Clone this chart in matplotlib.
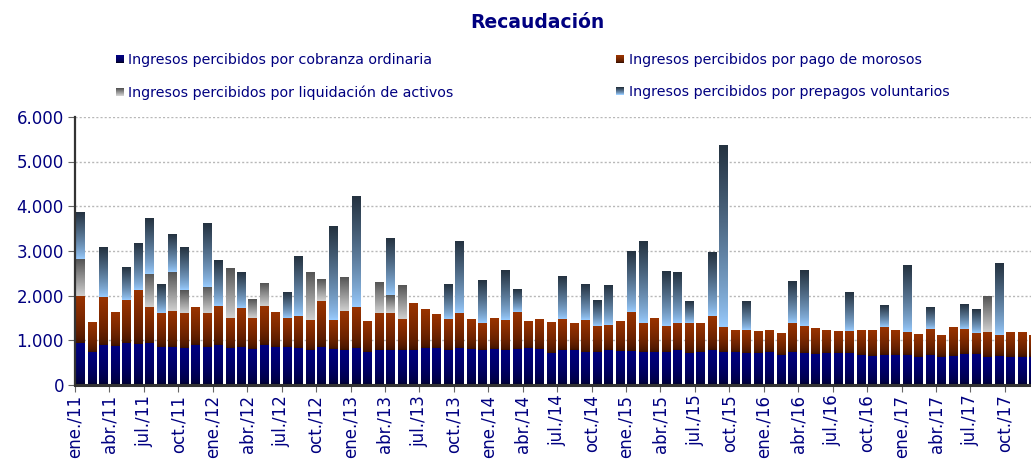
import numpy as np
import matplotlib
matplotlib.use("Agg")
import matplotlib.pyplot as plt
from matplotlib.patches import Rectangle
from matplotlib.legend_handler import HandlerBase
from matplotlib.ticker import FuncFormatter
from matplotlib.colors import to_rgb

# ---------------- data (monthly, ene./11 .. dic./17) ----------------
cobranza = [930, 730, 890, 870, 930, 910, 930, 860, 840, 820, 890, 860,
            890, 820, 860, 800, 890, 840, 840, 820, 780, 840, 800, 780,
            820, 730, 780, 780, 780, 780, 820, 820, 780, 820, 800, 780,
            800, 780, 800, 820, 800, 710, 780, 780, 730, 730, 780, 750,
            750, 730, 730, 730, 780, 710, 730, 780, 730, 730, 710, 710,
            730, 660, 730, 710, 690, 710, 710, 710, 660, 640, 660, 660,
            660, 620, 660, 620, 640, 690, 690, 620, 640, 620, 620, 620]
morosos = [1070, 670, 1070, 760, 980, 1210, 810, 740, 810, 800, 850, 740,
           870, 670, 870, 690, 870, 780, 650, 720, 670, 1050, 650, 870,
           920, 690, 830, 830, 690, 1050, 870, 740, 690, 800, 650, 600,
           690, 670, 830, 600, 650, 690, 690, 600, 720, 600, 560, 650,
           890, 650, 740, 600, 600, 670, 630, 760, 560, 490, 510, 490,
           470, 490, 650, 600, 580, 510, 490, 490, 540, 560, 630, 540,
           520, 510, 600, 490, 630, 560, 470, 560, 470, 540, 540, 490]
liquidacion = [810, 0, 0, 0, 0, 0, 740, 0, 870, 510, 0, 600,
               0, 1100, 0, 420, 510, 0, 0, 0, 1070, 490, 0, 760,
               0, 0, 690, 400, 740, 0, 0, 0, 0, 0, 0, 0,
               0, 0, 0, 0, 0, 0, 0, 0, 0, 0, 0, 0,
               0, 0, 0, 0, 0, 0, 0, 0, 0, 0, 0, 0,
               0, 0, 0, 0, 0, 0, 0, 0, 0, 0, 0, 0,
               0, 0, 0, 0, 0, 0, 0, 800, 0, 0, 0, 0]
prepagos = [1050, 0, 1100, 0, 720, 1030, 1250, 630, 850, 940, 0, 1430,
            1010, 0, 800, 0, 0, 0, 560, 1320, 0, 0, 2100, 0,
            2480, 0, 0, 1270, 0, 0, 0, 0, 780, 1610, 0, 960,
            0, 1100, 510, 0, 0, 0, 960, 0, 800, 560, 890, 0,
            1360, 1830, 0, 1210, 1120, 490, 0, 1430, 4050, 0, 630, 0,
            0, 0, 920, 1250, 0, 0, 0, 870, 0, 0, 490, 0,
            1480, 0, 490, 0, 0, 540, 520, 0, 1610, 0, 0, 0]

series_labels = ["Ingresos percibidos por cobranza ordinaria",
                 "Ingresos percibidos por pago de morosos",
                 "Ingresos percibidos por liquidación de activos",
                 "Ingresos percibidos por prepagos voluntarios"]
tick_labels = [f"{m}/{y}" for y in range(11, 18) for m in ("ene.", "abr.", "jul.", "oct.")]
title = "Recaudación"

# gradient colours (bottom, top)
grads = [("#000022", "#000080"),
         ("#3a1000", "#993300"),
         ("#cfcfcf", "#555555"),
         ("#99ccff", "#253341")]
gammas = [0.45, 0.6, 1.0, 0.8]

NAVY = "#000080"

def grad_img(bot, top, gamma, n=64):
    b = np.array(to_rgb(bot)); t = np.array(to_rgb(top))
    f = np.linspace(0, 1, n) ** gamma
    return (b[None, :] * (1 - f[:, None]) + t[None, :] * f[:, None])[:, None, :]

fig = plt.figure(figsize=(10.31, 4.62), dpi=100)
W, H = 1031, 462
ax = fig.add_axes([75 / W, 77 / H, (W - 75) / W, (385.5 - 117.3) / H])

n = len(cobranza)
x = np.arange(n) + 0.5
width = 0.78
bottom = np.zeros(n)
all_series = [cobranza, morosos, liquidacion, prepagos]
for k, vals in enumerate(all_series):
    vals = np.array(vals, dtype=float)
    bars = ax.bar(x, vals, width, bottom=bottom, color="none", edgecolor="none", zorder=2)
    img = grad_img(grads[k][0], grads[k][1], gammas[k])
    for r, v in zip(bars, vals):
        if v <= 0:
            continue
        x0, y0 = r.get_x(), r.get_y()
        ax.imshow(img, extent=(x0, x0 + r.get_width(), y0, y0 + r.get_height()),
                  origin="lower", aspect="auto", interpolation="bilinear", zorder=2)
    bottom += vals

ax.set_xlim(0, (W - 75) / 11.48)
ax.set_ylim(0, 6000)
ax.set_yticks(np.arange(0, 6001, 1000))
ax.yaxis.set_major_formatter(FuncFormatter(lambda v, p: f"{int(v):,}".replace(",", ".")))
ax.set_xticks(np.arange(0, n, 3))
ax.set_xticklabels(tick_labels, rotation=90)
ax.tick_params(axis="y", labelsize=12, labelcolor=NAVY, length=5, color="#666666", pad=3)
ax.tick_params(axis="x", labelsize=12, labelcolor=NAVY, length=5, color="#666666", pad=2)
ax.grid(axis="y", linestyle=(0, (1.5, 1.5)), color="#b8b8b8", linewidth=1.0, zorder=0)
ax.set_axisbelow(True)
for s in ("top", "right"):
    ax.spines[s].set_visible(False)
ax.spines["left"].set_color("#333333")
ax.spines["left"].set_linewidth(1.6)
ax.spines["bottom"].set_color("#333333")
ax.spines["bottom"].set_linewidth(2.2)

fig.text(537 / W, 1 - 22 / H, title, ha="center", va="center", fontsize=13.5,
         fontweight="bold", color=NAVY)

class GradProxy:
    def __init__(self, bot, top, gamma):
        self.bot, self.top, self.gamma = bot, top, gamma

class HandlerGrad(HandlerBase):
    def create_artists(self, legend, orig_handle, xdescent, ydescent, width, height, fontsize, trans):
        s = height * 0.8
        x0 = -xdescent + width - s
        y0 = -ydescent + (height - s) / 2
        cols = grad_img(orig_handle.bot, orig_handle.top, orig_handle.gamma, n=8)[:, 0, :]
        arts = []
        for i, c in enumerate(cols):
            arts.append(Rectangle((x0, y0 + i * s / 8), s, s / 8 + 0.01, facecolor=c,
                                  edgecolor="none", transform=trans))
        return arts

proxies = [GradProxy(g[0], g[1], gm) for g, gm in zip(grads, gammas)]
order = [0, 2, 1, 3]
leg = fig.legend([proxies[i] for i in order], [series_labels[i] for i in order],
                 handler_map={GradProxy: HandlerGrad()}, loc="upper left",
                 bbox_to_anchor=(113 / W, 1 - 53 / H), ncol=2, frameon=False,
                 fontsize=10.3, handlelength=0.75, handletextpad=0.3,
                 columnspacing=11.2, labelspacing=1.29, borderaxespad=0, borderpad=0)
for t in leg.get_texts():
    t.set_color(NAVY)

fig.savefig("out.png", dpi=100)
